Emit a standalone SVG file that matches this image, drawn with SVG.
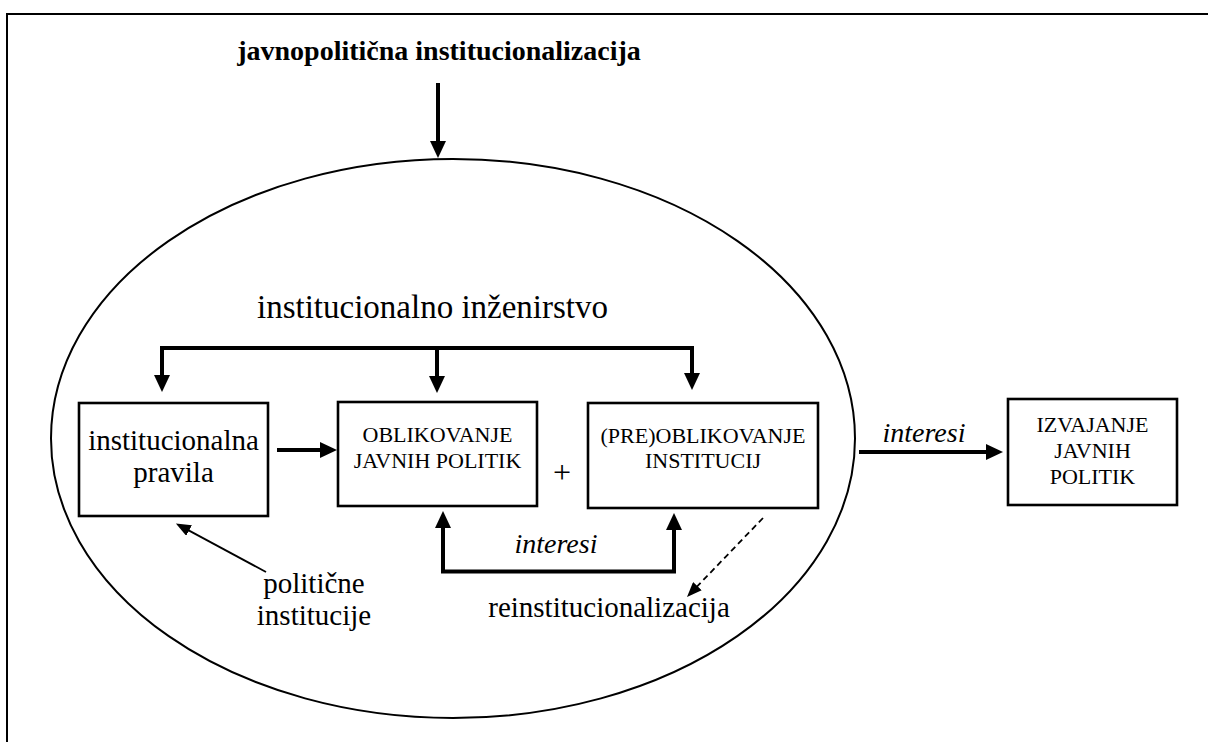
<svg xmlns="http://www.w3.org/2000/svg" width="1208" height="742" viewBox="0 0 1208 742">
<style>
.t{font-family:"Liberation Serif","Times New Roman",serif;fill:#000}
.lc{font-family:"Liberation Serif","Times New Roman",serif;font-size:29px;fill:#000}
.big{font-family:"Liberation Serif","Times New Roman",serif;font-size:33px;fill:#000}
.uc{font-family:"Liberation Serif","Times New Roman",serif;font-size:22px;fill:#000}
.it{font-family:"Liberation Serif","Times New Roman",serif;font-size:28px;font-style:italic;fill:#000}
.box{fill:#fff;stroke:#000;stroke-width:2.6}
.thick{fill:none;stroke:#000;stroke-width:4}
.thin{fill:none;stroke:#000;stroke-width:1.8}
.dash{fill:none;stroke:#000;stroke-width:1.8;stroke-dasharray:6 4}
</style>
<defs>
<marker id="ah" markerUnits="userSpaceOnUse" markerWidth="17" markerHeight="16" refX="1" refY="8" orient="auto-start-reverse">
<path d="M0,0 L17,8 L0,16 z" fill="#000"/>
</marker>
<marker id="ahs" markerUnits="userSpaceOnUse" markerWidth="15" markerHeight="12" refX="1" refY="6" orient="auto">
<path d="M0,0 L15,6 L0,12 z" fill="#000"/>
</marker>
</defs>
<rect width="1208" height="742" fill="#fff"/>
<path d="M7,760 V14 H1212" fill="none" stroke="#000" stroke-width="2"/>
<g id="title">
<text class="t" x="439" y="60" text-anchor="middle" font-size="28" font-weight="bold">javnopolitična institucionalizacija</text>
</g>
<g id="ellipse">
<ellipse cx="453" cy="438.5" rx="402" ry="279.5" fill="none" stroke="#000" stroke-width="2"/>
</g>
<g id="label-inzenirstvo">
<text class="big" x="257" y="318">institucionalno inženirstvo</text>
</g>
<g id="node-pravila">
<rect class="box" x="79" y="403" width="189" height="113"/>
<text class="lc" x="173.5" y="450" text-anchor="middle">institucionalna</text>
<text class="lc" x="173.5" y="482" text-anchor="middle">pravila</text>
</g>
<g id="node-oblikovanje">
<rect class="box" x="338" y="402" width="199" height="104"/>
<text class="uc" x="437.5" y="442" text-anchor="middle">OBLIKOVANJE</text>
<text class="uc" x="437.5" y="468" text-anchor="middle">JAVNIH POLITIK</text>
</g>
<g id="plus">
<text class="t" x="562" y="483" text-anchor="middle" font-size="32">+</text>
</g>
<g id="node-preoblikovanje">
<rect class="box" x="588" y="403" width="230" height="105"/>
<text class="uc" x="703" y="443" text-anchor="middle">(PRE)OBLIKOVANJE</text>
<text class="uc" x="703" y="468" text-anchor="middle">INSTITUCIJ</text>
</g>
<g id="node-izvajanje">
<rect class="box" x="1008" y="399" width="169" height="106"/>
<text class="uc" x="1092.5" y="432" text-anchor="middle">IZVAJANJE</text>
<text class="uc" x="1092.5" y="458" text-anchor="middle">JAVNIH</text>
<text class="uc" x="1092.5" y="484" text-anchor="middle">POLITIK</text>
</g>
<g id="label-politicne">
<text class="lc" x="314" y="593" text-anchor="middle">politične</text>
<text class="lc" x="314" y="625" text-anchor="middle">institucije</text>
</g>
<g id="label-reinst">
<text class="lc" x="609" y="617" text-anchor="middle">reinstitucionalizacija</text>
</g>
<g id="label-interesi-1">
<text class="it" x="556" y="553" text-anchor="middle">interesi</text>
</g>
<g id="label-interesi-2">
<text class="it" x="924" y="442" text-anchor="middle">interesi</text>
</g>
<g id="connectors">
<path class="thick" d="M438,83 V142" marker-end="url(#ah)"/>
<path class="thick" d="M162,376 V348 H692 V374" marker-start="url(#ah)" marker-end="url(#ah)"/>
<path class="thick" d="M437,348 V377" marker-end="url(#ah)"/>
<path class="thick" d="M277,450 H321" marker-end="url(#ah)"/>
<path class="thick" d="M443,527 V571.5 H674 V529" marker-start="url(#ah)" marker-end="url(#ah)"/>
<path class="thick" d="M859,452 H987" marker-end="url(#ah)"/>
<path class="thin" d="M266,572 L188.2,530.1" marker-end="url(#ahs)"/>
<path class="dash" d="M763,518 L696.7,586.9" marker-end="url(#ahs)"/>
</g>
</svg>
